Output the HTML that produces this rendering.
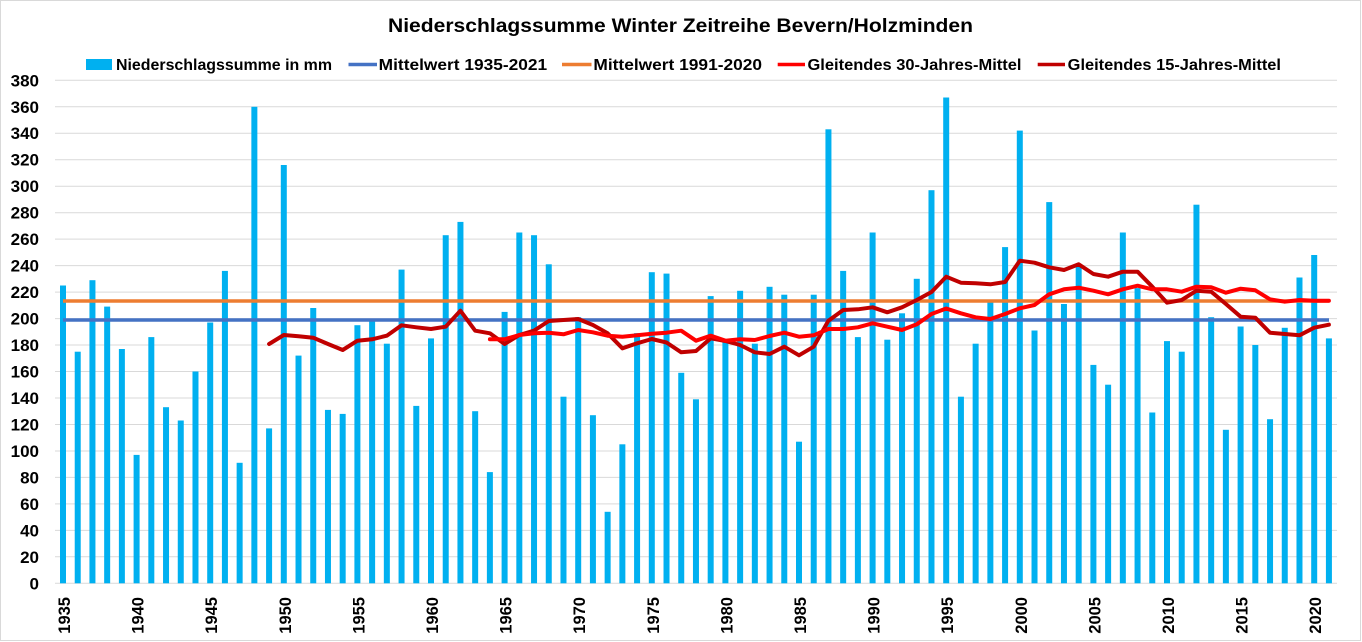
<!DOCTYPE html>
<html><head><meta charset="utf-8"><style>
html,body{margin:0;padding:0;background:#fff;}
svg{display:block;}
text{font-family:"Liberation Sans",Arial,sans-serif;font-weight:bold;fill:#000;}
</style></head><body>
<svg width="1362" height="642" viewBox="0 0 1362 642" xmlns="http://www.w3.org/2000/svg">
<rect x="0.5" y="0.5" width="1360" height="640" fill="#fff" stroke="#D9D9D9" stroke-width="1"/>
<text x="388" y="32" font-size="19.5" textLength="585" lengthAdjust="spacingAndGlyphs">Niederschlagssumme Winter Zeitreihe Bevern/Holzminden</text>
<!-- legend -->
<rect x="86" y="59" width="26" height="11" fill="#00B0F0"/>
<text x="116" y="70" font-size="16" textLength="216" lengthAdjust="spacingAndGlyphs">Niederschlagssumme in mm</text>
<line x1="348.5" y1="64.5" x2="377" y2="64.5" stroke="#4472C4" stroke-width="3.5"/>
<text x="378.7" y="70" font-size="16" textLength="168.5" lengthAdjust="spacingAndGlyphs">Mittelwert 1935-2021</text>
<line x1="562" y1="64.5" x2="591.5" y2="64.5" stroke="#ED7D31" stroke-width="3.5"/>
<text x="593.4" y="70" font-size="16" textLength="168.7" lengthAdjust="spacingAndGlyphs">Mittelwert 1991-2020</text>
<line x1="777.7" y1="64.5" x2="805" y2="64.5" stroke="#FF0000" stroke-width="3.5"/>
<text x="807.5" y="70" font-size="16" textLength="214" lengthAdjust="spacingAndGlyphs">Gleitendes 30-Jahres-Mittel</text>
<line x1="1037.7" y1="64.5" x2="1065" y2="64.5" stroke="#C00000" stroke-width="3.5"/>
<text x="1067.7" y="70" font-size="16" textLength="213.3" lengthAdjust="spacingAndGlyphs">Gleitendes 15-Jahres-Mittel</text>
<!-- gridlines -->
<g stroke="#D9D9D9" stroke-width="1">
<line x1="55" x2="1337" y1="583.3" y2="583.3"/>
<line x1="55" x2="1337" y1="556.8" y2="556.8"/>
<line x1="55" x2="1337" y1="530.4" y2="530.4"/>
<line x1="55" x2="1337" y1="503.9" y2="503.9"/>
<line x1="55" x2="1337" y1="477.4" y2="477.4"/>
<line x1="55" x2="1337" y1="451.0" y2="451.0"/>
<line x1="55" x2="1337" y1="424.5" y2="424.5"/>
<line x1="55" x2="1337" y1="398.0" y2="398.0"/>
<line x1="55" x2="1337" y1="371.5" y2="371.5"/>
<line x1="55" x2="1337" y1="345.0" y2="345.0"/>
<line x1="55" x2="1337" y1="318.6" y2="318.6"/>
<line x1="55" x2="1337" y1="292.1" y2="292.1"/>
<line x1="55" x2="1337" y1="265.6" y2="265.6"/>
<line x1="55" x2="1337" y1="239.1" y2="239.1"/>
<line x1="55" x2="1337" y1="212.7" y2="212.7"/>
<line x1="55" x2="1337" y1="186.2" y2="186.2"/>
<line x1="55" x2="1337" y1="159.7" y2="159.7"/>
<line x1="55" x2="1337" y1="133.2" y2="133.2"/>
<line x1="55" x2="1337" y1="106.8" y2="106.8"/>
<line x1="55" x2="1337" y1="80.3" y2="80.3"/>
</g>
<!-- y labels -->
<g font-size="17" text-anchor="end">
<text x="39" y="589.3">0</text>
<text x="39" y="562.8">20</text>
<text x="39" y="536.4">40</text>
<text x="39" y="509.9">60</text>
<text x="39" y="483.4">80</text>
<text x="39" y="457.0">100</text>
<text x="39" y="430.5">120</text>
<text x="39" y="404.0">140</text>
<text x="39" y="377.5">160</text>
<text x="39" y="351.0">180</text>
<text x="39" y="324.6">200</text>
<text x="39" y="298.1">220</text>
<text x="39" y="271.6">240</text>
<text x="39" y="245.1">260</text>
<text x="39" y="218.7">280</text>
<text x="39" y="192.2">300</text>
<text x="39" y="165.7">320</text>
<text x="39" y="139.2">340</text>
<text x="39" y="112.8">360</text>
<text x="39" y="86.3">380</text>
</g>
<!-- bars -->
<g fill="#00B0F0">
<rect x="60.00" y="285.5" width="6" height="297.8"/>
<rect x="74.72" y="351.7" width="6" height="231.6"/>
<rect x="89.44" y="280.2" width="6" height="303.1"/>
<rect x="104.16" y="306.6" width="6" height="276.7"/>
<rect x="118.88" y="349.0" width="6" height="234.3"/>
<rect x="133.60" y="454.9" width="6" height="128.4"/>
<rect x="148.32" y="337.1" width="6" height="246.2"/>
<rect x="163.04" y="407.2" width="6" height="176.1"/>
<rect x="177.76" y="420.5" width="6" height="162.8"/>
<rect x="192.48" y="371.5" width="6" height="211.8"/>
<rect x="207.20" y="322.5" width="6" height="260.8"/>
<rect x="221.92" y="270.9" width="6" height="312.4"/>
<rect x="236.64" y="462.8" width="6" height="120.5"/>
<rect x="251.36" y="106.8" width="6" height="476.5"/>
<rect x="266.08" y="428.4" width="6" height="154.9"/>
<rect x="280.80" y="165.0" width="6" height="418.3"/>
<rect x="295.52" y="355.6" width="6" height="227.7"/>
<rect x="310.24" y="308.0" width="6" height="275.3"/>
<rect x="324.96" y="409.9" width="6" height="173.4"/>
<rect x="339.68" y="413.9" width="6" height="169.4"/>
<rect x="354.40" y="325.2" width="6" height="258.1"/>
<rect x="369.12" y="321.2" width="6" height="262.1"/>
<rect x="383.84" y="343.7" width="6" height="239.6"/>
<rect x="398.56" y="269.6" width="6" height="313.7"/>
<rect x="413.28" y="405.9" width="6" height="177.4"/>
<rect x="428.00" y="338.4" width="6" height="244.9"/>
<rect x="442.72" y="235.2" width="6" height="348.1"/>
<rect x="457.44" y="221.9" width="6" height="361.4"/>
<rect x="472.16" y="411.2" width="6" height="172.1"/>
<rect x="486.88" y="472.1" width="6" height="111.2"/>
<rect x="501.60" y="311.9" width="6" height="271.4"/>
<rect x="516.32" y="232.5" width="6" height="350.8"/>
<rect x="531.04" y="235.2" width="6" height="348.1"/>
<rect x="545.76" y="264.3" width="6" height="319.0"/>
<rect x="560.48" y="396.7" width="6" height="186.6"/>
<rect x="575.20" y="317.2" width="6" height="266.1"/>
<rect x="589.92" y="415.2" width="6" height="168.1"/>
<rect x="604.64" y="511.8" width="6" height="71.5"/>
<rect x="619.36" y="444.3" width="6" height="139.0"/>
<rect x="634.08" y="333.1" width="6" height="250.2"/>
<rect x="648.80" y="272.2" width="6" height="311.1"/>
<rect x="663.52" y="273.6" width="6" height="309.7"/>
<rect x="678.24" y="372.8" width="6" height="210.5"/>
<rect x="692.96" y="399.3" width="6" height="184.0"/>
<rect x="707.68" y="296.1" width="6" height="287.2"/>
<rect x="722.40" y="342.4" width="6" height="240.9"/>
<rect x="737.12" y="290.8" width="6" height="292.5"/>
<rect x="751.84" y="343.7" width="6" height="239.6"/>
<rect x="766.56" y="286.8" width="6" height="296.5"/>
<rect x="781.28" y="294.7" width="6" height="288.6"/>
<rect x="796.00" y="441.7" width="6" height="141.6"/>
<rect x="810.72" y="294.7" width="6" height="288.6"/>
<rect x="825.44" y="129.3" width="6" height="454.0"/>
<rect x="840.16" y="270.9" width="6" height="312.4"/>
<rect x="854.88" y="337.1" width="6" height="246.2"/>
<rect x="869.60" y="232.5" width="6" height="350.8"/>
<rect x="884.32" y="339.7" width="6" height="243.6"/>
<rect x="899.04" y="313.3" width="6" height="270.0"/>
<rect x="913.76" y="278.8" width="6" height="304.5"/>
<rect x="928.48" y="190.2" width="6" height="393.1"/>
<rect x="943.20" y="97.5" width="6" height="485.8"/>
<rect x="957.92" y="396.7" width="6" height="186.6"/>
<rect x="972.64" y="343.7" width="6" height="239.6"/>
<rect x="987.36" y="301.4" width="6" height="281.9"/>
<rect x="1002.08" y="247.1" width="6" height="336.2"/>
<rect x="1016.80" y="130.6" width="6" height="452.7"/>
<rect x="1031.52" y="330.5" width="6" height="252.8"/>
<rect x="1046.24" y="202.1" width="6" height="381.2"/>
<rect x="1060.96" y="304.0" width="6" height="279.3"/>
<rect x="1075.68" y="266.9" width="6" height="316.4"/>
<rect x="1090.40" y="364.9" width="6" height="218.4"/>
<rect x="1105.12" y="384.7" width="6" height="198.6"/>
<rect x="1119.84" y="232.5" width="6" height="350.8"/>
<rect x="1134.56" y="288.1" width="6" height="295.2"/>
<rect x="1149.28" y="412.5" width="6" height="170.8"/>
<rect x="1164.00" y="341.1" width="6" height="242.2"/>
<rect x="1178.72" y="351.7" width="6" height="231.6"/>
<rect x="1193.44" y="204.7" width="6" height="378.6"/>
<rect x="1208.16" y="317.2" width="6" height="266.1"/>
<rect x="1222.88" y="429.8" width="6" height="153.5"/>
<rect x="1237.60" y="326.5" width="6" height="256.8"/>
<rect x="1252.32" y="345.0" width="6" height="238.3"/>
<rect x="1267.04" y="419.2" width="6" height="164.1"/>
<rect x="1281.76" y="327.8" width="6" height="255.5"/>
<rect x="1296.48" y="277.5" width="6" height="305.8"/>
<rect x="1311.20" y="255.0" width="6" height="328.3"/>
<rect x="1325.92" y="338.4" width="6" height="244.9"/>
</g>
<!-- mean lines -->
<line x1="63" y1="320" x2="1329" y2="320" stroke="#4472C4" stroke-width="3.5"/>
<line x1="63" y1="301" x2="1329" y2="301" stroke="#ED7D31" stroke-width="3.5"/>
<!-- 15-year moving average -->
<polyline fill="none" stroke="#C00000" stroke-width="4" stroke-linejoin="round" stroke-linecap="round" points="
269.1,344 283.8,335 298.5,336.3 313.2,337.7 328.0,344 342.7,350 357.4,340.7 372.1,339.3 386.8,335.7 401.6,325.3
416.3,327.3 431.0,329 445.7,326.7 460.4,310.7 475.2,330.7 489.9,333.3 504.6,344 519.3,335 534.0,330.7 548.8,321
563.5,320 578.2,319 592.9,325 607.6,333.3 622.4,348.3 637.1,343.3 651.8,339 666.5,342.5 681.2,352.3 696.0,351
710.7,338.3 725.4,341 740.1,345 754.8,352.3 769.6,354 784.3,346.7 799.0,355.3 813.7,346.7 828.4,320.7 843.2,310
857.9,309.3 872.6,307.3 887.3,312.3 902.0,307.3 916.8,300 931.5,292 946.2,276.7 960.9,282.7 975.6,283.3 990.4,284.3
1005.1,282 1019.8,260.7 1034.5,262.7 1049.2,267.3 1064.0,270 1078.7,264.3 1093.4,274 1108.1,276.7 1122.8,271.7 1137.6,271.7
1152.3,286.7 1167.0,302.7 1181.7,300 1196.4,290.7 1211.2,291.7 1225.9,304 1240.6,316.7 1255.3,317.7 1270.0,332.7 1284.8,334
1299.5,335.3 1314.2,327.7 1328.9,324.7"/>
<!-- 30-year moving average -->
<polyline fill="none" stroke="#FF0000" stroke-width="4" stroke-linejoin="round" stroke-linecap="round" points="
489.9,339.3 504.6,339.3 519.3,335 534.0,333.3 548.8,332.7 563.5,334.3 578.2,330 592.9,332.3 607.6,335.7 622.4,336.7
637.1,335.3 651.8,333.7 666.5,332.7 681.2,330.7 696.0,340.7 710.7,335.7 725.4,340.7 740.1,339.3 754.8,340 769.6,336
784.3,332.7 799.0,336.7 813.7,335.3 828.4,329 843.2,329 857.9,327.3 872.6,323.3 887.3,326.7 902.0,330 916.8,324.3
931.5,314 946.2,308.5 960.9,313.3 975.6,317.3 990.4,319 1005.1,314 1019.8,308.3 1034.5,305 1049.2,294.3 1064.0,289.3
1078.7,287.7 1093.4,290.7 1108.1,294.3 1122.8,289.3 1137.6,285.7 1152.3,289.3 1167.0,289.3 1181.7,291.7 1196.4,286.7 1211.2,287.3
1225.9,292.7 1240.6,288.7 1255.3,290.3 1270.0,299.3 1284.8,301.7 1299.5,300 1314.2,300.7 1328.9,300.7"/>
<!-- x labels -->
<g font-size="16.5" text-anchor="end">
<text transform="translate(70,597) rotate(-90)">1935</text>
<text transform="translate(143.6,597) rotate(-90)">1940</text>
<text transform="translate(217.2,597) rotate(-90)">1945</text>
<text transform="translate(290.8,597) rotate(-90)">1950</text>
<text transform="translate(364.4,597) rotate(-90)">1955</text>
<text transform="translate(438,597) rotate(-90)">1960</text>
<text transform="translate(511.6,597) rotate(-90)">1965</text>
<text transform="translate(585.2,597) rotate(-90)">1970</text>
<text transform="translate(658.8,597) rotate(-90)">1975</text>
<text transform="translate(732.4,597) rotate(-90)">1980</text>
<text transform="translate(806,597) rotate(-90)">1985</text>
<text transform="translate(879.6,597) rotate(-90)">1990</text>
<text transform="translate(953.2,597) rotate(-90)">1995</text>
<text transform="translate(1026.8,597) rotate(-90)">2000</text>
<text transform="translate(1100.4,597) rotate(-90)">2005</text>
<text transform="translate(1174,597) rotate(-90)">2010</text>
<text transform="translate(1247.6,597) rotate(-90)">2015</text>
<text transform="translate(1321.2,597) rotate(-90)">2020</text>
</g>
</svg>
</body></html>
